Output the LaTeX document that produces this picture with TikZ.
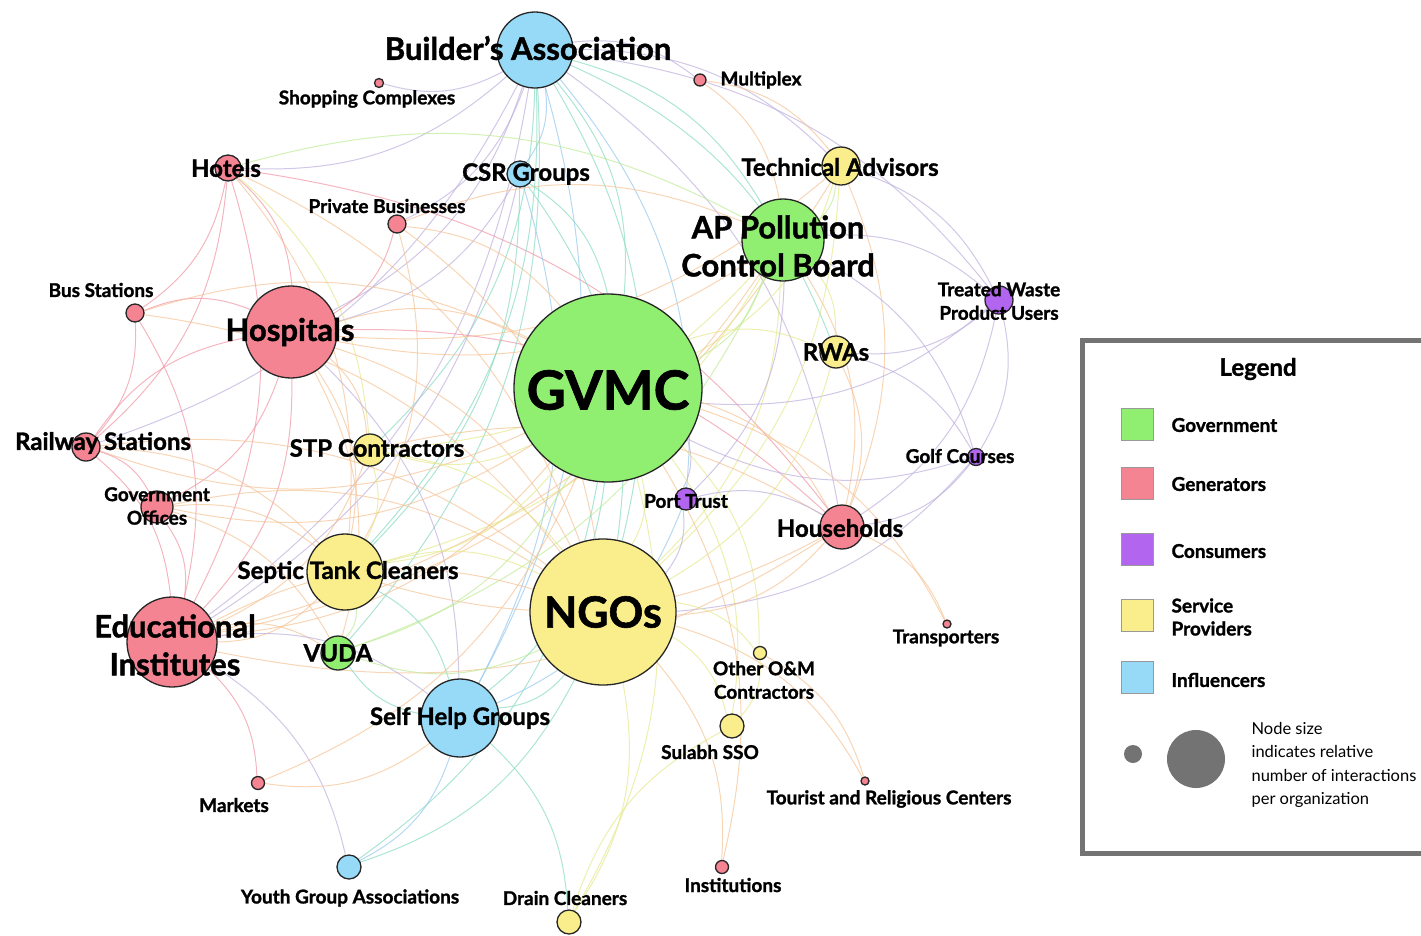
\documentclass[tikz,border=0pt]{standalone}
\usepackage{fontspec}
\setmainfont{Lato}[BoldFeatures={FakeBold=1.3}]
\usetikzlibrary{backgrounds}

\definecolor{govgreen}{RGB}{144,238,112}
\definecolor{genpink}{RGB}{244,132,146}
\definecolor{conpurple}{RGB}{178,102,240}
\definecolor{srvyellow}{RGB}{250,238,140}
\definecolor{inflblue}{RGB}{150,218,248}
% edge colours
\definecolor{egreen}{RGB}{190,235,150}
\definecolor{epink}{RGB}{240,150,165}
\definecolor{eorange}{RGB}{245,195,150}
\definecolor{eteal}{RGB}{135,218,195}
\definecolor{eviolet}{RGB}{190,175,220}
\definecolor{eyellow}{RGB}{228,232,140}
\definecolor{eblue}{RGB}{150,200,238}

\tikzset{
  org/.style={circle, draw=black!85, line width=1.3pt, inner sep=0pt},
  gov/.style={org, fill=govgreen},
  gen/.style={org, fill=genpink},
  con/.style={org, fill=conpurple},
  srv/.style={org, fill=srvyellow},
  inf/.style={org, fill=inflblue},
  huge/.style={font=\fontsize{54}{60}\selectfont\bfseries},
  large/.style={font=\fontsize{43}{48}\selectfont\bfseries},
  big/.style={font=\fontsize{31}{38}\selectfont\bfseries, align=center},
  mid/.style={font=\fontsize{24}{28}\selectfont\bfseries},
  small/.style={font=\fontsize{19}{23.5}\selectfont\bfseries, align=center},
  link/.style={line width=1pt, draw opacity=.7},
  lg/.style={link, draw=egreen},
  lp/.style={link, draw=epink},
  lo/.style={link, draw=eorange},
  lt/.style={link, draw=eteal},
  lv/.style={link, draw=eviolet},
  ly/.style={link, draw=eyellow},
  lb/.style={link, draw=eblue},
  swatch/.style={draw=black!40, line width=1pt, minimum size=32, inner sep=0pt},
  legtext/.style={anchor=west, align=left, font=\fontsize{19}{23}\selectfont\bfseries},
}

\begin{document}
\begin{tikzpicture}[x=1pt, y=-1pt]
  \useasboundingbox (0,0) rectangle (1421,935);

  % organisations
  \node[inf, minimum size=76] (ba) at (535,50) {};
  \node[gen, minimum size=9] (shop) at (379,83) {};
  \node[gen, minimum size=12] (multi) at (700,80) {};
  \node[gen, minimum size=26] (hotels) at (228,168) {};
  \node[inf, minimum size=26] (csr) at (520,174) {};
  \node[gen, minimum size=18] (priv) at (397,224) {};
  \node[srv, minimum size=38] (tech) at (841,166) {};
  \node[gov, minimum size=82] (apcb) at (783,240) {};
  \node[gen, minimum size=18] (bus) at (135,313) {};
  \node[gen, minimum size=92] (hosp) at (291,332) {};
  \node[con, minimum size=28] (twpu) at (999,300) {};
  \node[gov, minimum size=188] (gvmc) at (608,388) {};
  \node[srv, minimum size=32] (rwa) at (836,352) {};
  \node[gen, minimum size=28] (rail) at (86,447) {};
  \node[srv, minimum size=32] (stp) at (370,450) {};
  \node[con, minimum size=17] (golf) at (976,457) {};
  \node[gen, minimum size=32] (govoff) at (157,507) {};
  \node[con, minimum size=22] (port) at (686,499) {};
  \node[gen, minimum size=44] (house) at (842,527) {};
  \node[srv, minimum size=76] (septic) at (345,572) {};
  \node[gen, minimum size=90] (edu) at (172,642) {};
  \node[srv, minimum size=146] (ngo) at (603,612) {};
  \node[gen, minimum size=8] (trans) at (947,624) {};
  \node[gov, minimum size=34] (vuda) at (338,653) {};
  \node[srv, minimum size=13] (om) at (760,653) {};
  \node[inf, minimum size=78] (shg) at (460,718) {};
  \node[srv, minimum size=24] (sulabh) at (732,726) {};
  \node[gen, minimum size=13] (markets) at (258,783) {};
  \node[gen, minimum size=8] (tourist) at (865,781) {};
  \node[inf, minimum size=24] (youth) at (349,867) {};
  \node[srv, minimum size=24] (drain) at (569,922) {};
  \node[gen, minimum size=13] (inst) at (722,867) {};

  % interactions
  \begin{scope}[on background layer]
    \foreach \a/\b/\c in {
      ba/shop/lv, ba/hotels/lv, ba/csr/lb, ba/priv/lv, ba/hosp/lv, ba/multi/lv,
      ba/tech/lv, ba/apcb/lt, ba/twpu/lv, ba/rwa/lt, ba/gvmc/lt, ba/stp/lt,
      ba/septic/lt, ba/port/lb, ba/ngo/lt, ba/shg/lb, ba/vuda/lt, ba/house/lv,
      ba/edu/lv, ba/rail/lv,
      hotels/bus/lp, hotels/rail/lp, hotels/hosp/lp, hotels/edu/lp, hotels/apcb/lg,
      hotels/septic/lo, hotels/ngo/lo, hotels/stp/ly, hotels/house/lp,
      csr/gvmc/lt, csr/ngo/lt, csr/shg/lb, csr/hosp/lv, csr/edu/lv, csr/septic/lt,
      priv/gvmc/lo, priv/hosp/lp, priv/apcb/lo, priv/septic/lo, priv/ngo/lo,
      tech/apcb/lg, tech/gvmc/ly, tech/house/lo, tech/twpu/lv, multi/tech/lo,
      tech/hosp/lo, tech/edu/lo, tech/ngo/ly,
      apcb/gvmc/lg, apcb/twpu/lv, apcb/rwa/ly, apcb/golf/lv, apcb/house/lo,
      apcb/hosp/lo, apcb/edu/lo, apcb/ngo/ly, apcb/septic/ly, apcb/stp/ly,
      apcb/port/lv, multi/apcb/lo, apcb/vuda/lg,
      bus/rail/lp, bus/hosp/lp, bus/edu/lp, bus/gvmc/lo, bus/ngo/lo,
      hosp/gvmc/lo, rail/hosp/lp, hosp/govoff/lp, hosp/edu/lp, hosp/stp/lo,
      hosp/septic/lo, hosp/ngo/lo, hosp/house/lp, hosp/vuda/lo, hosp/shg/lv,
      twpu/gvmc/lv, twpu/rwa/lv, twpu/golf/lv, twpu/house/lv,
      gvmc/rwa/ly, golf/gvmc/lv, gvmc/port/lv, gvmc/house/lo, gvmc/rail/lo,
      gvmc/stp/ly, gvmc/govoff/lo, gvmc/septic/ly, gvmc/edu/lo, gvmc/ngo/ly,
      gvmc/vuda/lg, gvmc/shg/lt, gvmc/om/ly, gvmc/sulabh/ly, gvmc/drain/ly,
      gvmc/inst/lo, gvmc/youth/lt, gvmc/trans/lo, gvmc/markets/lo,
      rwa/house/lo, rwa/ngo/ly, rwa/golf/lv,
      rail/govoff/lp, rail/edu/lp, rail/ngo/lo, rail/septic/lo,
      stp/ngo/ly, stp/septic/ly, stp/edu/lo, stp/house/lo,
      golf/house/lv, golf/ngo/lv,
      govoff/edu/lp, govoff/septic/lo, govoff/ngo/lo, govoff/vuda/lo,
      port/ngo/lv, port/shg/lb, port/house/lv,
      house/ngo/lo, house/trans/lo, house/septic/lo, house/edu/lo,
      septic/ngo/ly, septic/edu/lo, septic/vuda/lg, septic/shg/lt,
      edu/ngo/lo, edu/vuda/lo, edu/shg/lv, edu/markets/lp, edu/youth/lv,
      ngo/shg/lt, ngo/vuda/lg, ngo/om/ly, ngo/sulabh/ly, ngo/drain/ly,
      ngo/inst/lo, ngo/tourist/lo, ngo/youth/lt,
      om/tourist/lo, om/sulabh/ly,
      shg/youth/lb, shg/markets/lo, shg/drain/lt, shg/vuda/lt, drain/sulabh/ly}
      \draw[\c] (\a) to[bend left=22] (\b);
  \end{scope}

  % labels
  \node[big] (ba-t) at (528,48) {Builder’s Association};
  \node[small] (shop-t) at (367,99) {Shopping Complexes};
  \node[small] (multi-t) at (761,80) {Multiplex};
  \node[mid] (hotels-t) at (226,168) {Hotels};
  \node[mid] (csr-t) at (526,174) {CSR Groups};
  \node[small] (priv-t) at (387,206) {Private Businesses};
  \node[mid] (tech-t) at (840,167) {Technical Advisors};
  \node[big] (apcb-t) at (778,246) {AP Pollution\\Control Board};
  \node[small] (bus-t) at (101,290) {Bus Stations};
  \node[big] (hosp-t) at (290,332) {Hospitals};
  \node[small] (twpu-t) at (999,301) {Treated Waste\\Product Users};
  \node[huge] (gvmc-t) at (608,390) {GVMC};
  \node[mid] (rwa-t) at (836,352) {RWAs};
  \node[mid] (rail-t) at (103,443) {Railway Stations};
  \node[mid] (stp-t) at (377,448) {STP Contractors};
  \node[small] (golf-t) at (960,456) {Golf Courses};
  \node[small] (govoff-t) at (157,506) {Government\\Offices};
  \node[small] (port-t) at (686,501) {Port Trust};
  \node[mid] (house-t) at (840,528) {Households};
  \node[mid] (septic-t) at (348,572) {Septic Tank Cleaners};
  \node[big] (edu-t) at (175,645) {Educational\\Institutes};
  \node[large] (ngo-t) at (603,612) {NGOs};
  \node[small] (trans-t) at (946,638) {Transporters};
  \node[mid] (vuda-t) at (338,653) {VUDA};
  \node[small] (om-t) at (764,680) {Other O\&M\\Contractors};
  \node[mid] (shg-t) at (460,718) {Self Help Groups};
  \node[small] (sulabh-t) at (710,752) {Sulabh SSO};
  \node[small] (markets-t) at (234,805) {Markets};
  \node[small] (tourist-t) at (889,799) {Tourist and Religious Centers};
  \node[small] (youth-t) at (350,898) {Youth Group Associations};
  \node[small] (drain-t) at (565,898) {Drain Cleaners};
  \node[small] (inst-t) at (733,885) {Institutions};

  % legend
  \draw[black!55, line width=5pt, fill=white] (1082,340) rectangle (1450,853);
  \node[font=\fontsize{24}{28}\selectfont\bfseries] (leg-t) at (1258,369) {Legend};
  \node[swatch, fill=govgreen] (sw-gov) at (1137,424) {};
  \node[swatch, fill=genpink] (sw-gen) at (1137,483) {};
  \node[swatch, fill=conpurple] (sw-con) at (1137,549) {};
  \node[swatch, fill=srvyellow] (sw-srv) at (1137,615) {};
  \node[swatch, fill=inflblue] (sw-inf) at (1137,677) {};
  \node[legtext] (lab-gov) at (1168,425) {Government};
  \node[legtext] (lab-gen) at (1168,484) {Generators};
  \node[legtext] (lab-con) at (1168,551) {Consumers};
  \node[legtext] (lab-srv) at (1168,617) {Service\\Providers};
  \node[legtext] (lab-inf) at (1168,680) {Influencers};
  \node[circle, fill=black!55, minimum size=18, inner sep=0pt] (sz-small) at (1133,754) {};
  \node[circle, fill=black!55, minimum size=58, inner sep=0pt] (sz-big) at (1196,759) {};
  \node[anchor=north west, align=left, font=\fontsize{16.5}{23.3}\selectfont] (sz-t) at (1248,719)
    {Node size\\indicates relative\\number of interactions\\per organization};
\end{tikzpicture}
\end{document}
